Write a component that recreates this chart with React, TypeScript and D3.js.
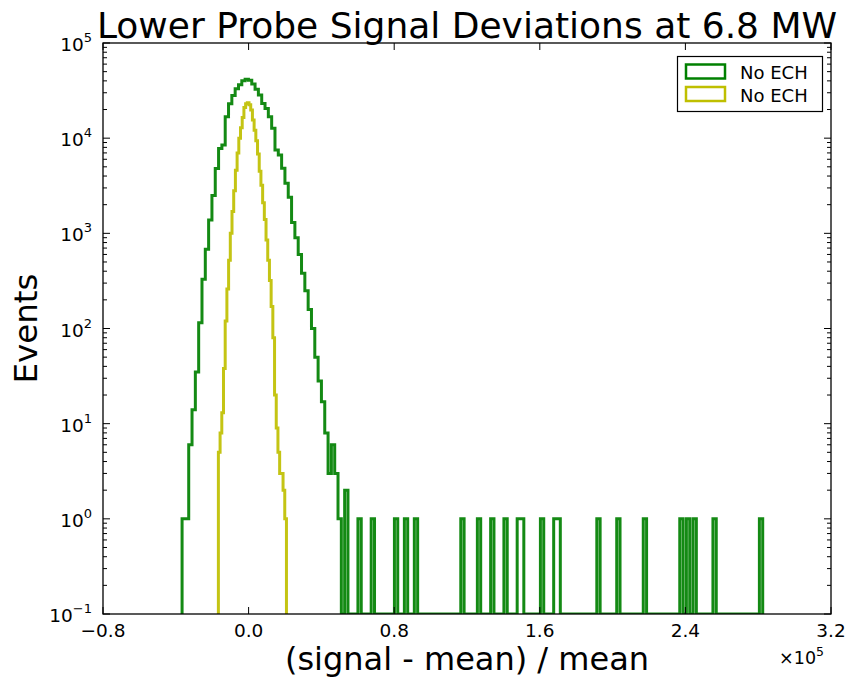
import React from "react";
import * as d3 from "d3";

const title = "Lower Probe Signal Deviations at 6.8 MW";
const xLabel = "(signal - mean) / mean";
const yLabel = "Events";
const legendLabels = ["No ECH", "No ECH"];
const seriesColors = ["#008000", "#bfbf00"];

const xTicks = [-0.8, 0, 0.8, 1.6, 2.4, 3.2];
const xTickLabels = ["−0.8", "0.0", "0.8", "1.6", "2.4", "3.2"];
const yTickExps = [-1, 0, 1, 2, 3, 4, 5];
const yTickLabels = ["−1", "0", "1", "2", "3", "4", "5"];
const xOffsetExp = "5";

// green histogram (175 bins)
const greenBinStart = -0.3655;
const greenBinWidth = 0.01823;
const greenBinTotal = 175;
const greenCoreCounts = [
  1, 1, 6, 14, 35, 115, 330, 680, 1380, 2500,
  4800, 7800, 8500, 16800, 23000, 28000, 33000, 36500, 40000, 41500,
  40500, 37000, 32600, 28400, 23200, 20500, 16800, 12700, 7500, 6660,
  4820, 3350, 2400, 1300, 900, 600, 380, 250, 158, 100,
  50, 28, 17, 8, 3, 6, 3, 1, 0, 2,
];
const greenTailBins = [53, 57, 64, 67, 70, 84, 89, 93, 97, 101, 102, 108, 112, 113, 125, 131, 139, 150, 152, 154, 160, 174];
const greenTailCounts = [1, 1, 1, 1, 1, 1, 1, 1, 1, 1, 1, 1, 1, 1, 1, 1, 1, 1, 1, 1, 1, 1];

// yellow histogram (40 bins)
const yellowBinStart = -0.166;
const yellowBinWidth = 0.00935;
const yellowCounts = [
  5, 8, 13, 38, 120, 260, 520, 1000, 1700, 2800,
  4600, 7000, 10000, 12900, 16500, 21000, 23000, 23500, 22500, 19800,
  15500, 12100, 9400, 6800, 4500, 3200, 2100, 1400, 850, 520,
  320, 170, 80, 20, 9, 5, 3, 3, 2, 1,
];

const W = 847;
const H = 678;
const L = 103;
const R = 831;
const T = 43;
const B = 614;
const FONT = "DejaVu Sans";

export default function App() {
  const x = d3.scaleLinear().domain([-0.8, 3.2]).range([L, R]);
  const y = d3.scaleLog().domain([0.1, 1e5]).range([B, T]);
  const floor = 0.1;

  const greenCounts: number[] = new Array(greenBinTotal).fill(0);
  greenCoreCounts.forEach((c, i) => (greenCounts[i] = c));
  greenTailBins.forEach((b, i) => (greenCounts[b] = greenTailCounts[i]));

  const stepPoints = (start: number, width: number, counts: number[]) => {
    const pts: [number, number][] = [[start, floor]];
    counts.forEach((c, i) => {
      const v = c > 0 ? c : floor;
      pts.push([start + i * width, v], [start + (i + 1) * width, v]);
    });
    pts.push([start + counts.length * width, floor]);
    return pts;
  };
  const line = d3
    .line<[number, number]>()
    .x((d) => x(d[0]))
    .y((d) => y(d[1]));

  const greenPath = line(stepPoints(greenBinStart, greenBinWidth, greenCounts)) || "";
  const yellowPath = line(stepPoints(yellowBinStart, yellowBinWidth, yellowCounts)) || "";

  const minorY: number[] = [];
  yTickExps.slice(0, -1).forEach((e) => {
    for (let m = 2; m <= 9; m++) minorY.push(m * Math.pow(10, e));
  });

  const majLen = 7;
  const minLen = 4;

  return (
    <div style={{ position: "absolute", left: 0, top: 0 }}>
      <svg width={W} height={H} style={{ display: "block", background: "#fff" }} fontFamily={FONT}>
        <defs>
          <clipPath id="axclip">
            <rect x={L} y={T} width={R - L} height={B - T} />
          </clipPath>
        </defs>
        <rect x={0} y={0} width={W} height={H} fill="#fff" />
        <g clipPath="url(#axclip)" fill="none" strokeWidth={3} strokeLinejoin="miter">
          <path d={greenPath} stroke={seriesColors[0]} strokeOpacity={0.92} />
          <path d={yellowPath} stroke={seriesColors[1]} strokeOpacity={0.92} />
        </g>
        {/* ticks */}
        <g stroke="#000" strokeWidth={1}>
          {xTicks.map((t, i) => (
            <g key={"xt" + i}>
              <line x1={x(t)} x2={x(t)} y1={B} y2={B - majLen} />
              <line x1={x(t)} x2={x(t)} y1={T} y2={T + majLen} />
            </g>
          ))}
          {yTickExps.map((e, i) => (
            <g key={"yt" + i}>
              <line x1={L} x2={L + majLen} y1={y(Math.pow(10, e))} y2={y(Math.pow(10, e))} />
              <line x1={R} x2={R - majLen} y1={y(Math.pow(10, e))} y2={y(Math.pow(10, e))} />
            </g>
          ))}
          {minorY.map((v, i) => (
            <g key={"ym" + i}>
              <line x1={L} x2={L + minLen} y1={y(v)} y2={y(v)} />
              <line x1={R} x2={R - minLen} y1={y(v)} y2={y(v)} />
            </g>
          ))}
        </g>
        <rect x={L} y={T} width={R - L} height={B - T} fill="none" stroke="#000" strokeWidth={1.3} />
        {/* x tick labels */}
        {xTicks.map((t, i) => (
          <text key={"xl" + i} x={x(t)} y={637} textAnchor="middle" fontSize={18.5} fill="#000">
            {xTickLabels[i]}
          </text>
        ))}
        {/* y tick labels */}
        {yTickExps.map((e, i) => (
          <text key={"yl" + i} x={L - 11} y={y(Math.pow(10, e)) + 8} textAnchor="end" fontSize={18.5} fill="#000">
            10
            <tspan fontSize={13} dy={-9}>
              {yTickLabels[i]}
            </tspan>
          </text>
        ))}
        {/* offset text */}
        <text x={824} y={664} textAnchor="end" fontSize={17.5} fill="#000">
          ×10
          <tspan fontSize={12.5} dy={-8}>
            {xOffsetExp}
          </tspan>
        </text>
        {/* title & labels */}
        <text x={(L + R) / 2} y={38} textAnchor="middle" fontSize={36} fill="#000">
          {title}
        </text>
        <text x={(L + R) / 2} y={670} textAnchor="middle" fontSize={32} fill="#000">
          {xLabel}
        </text>
        <text transform={`translate(37,${(T + B) / 2}) rotate(-90)`} textAnchor="middle" fontSize={32.5} fill="#000">
          {yLabel}
        </text>
        {/* legend */}
        <g>
          <rect x={677.5} y={56.5} width={145} height={55} fill="#fff" stroke="#000" strokeWidth={1.2} />
          {legendLabels.map((lab, i) => (
            <g key={"lg" + i}>
              <rect x={686} y={64.5 + i * 22.5} width={39} height={14} fill="none" stroke={seriesColors[i]} strokeWidth={2.5} />
              <text x={740} y={79 + i * 22.5} fontSize={18} fill="#000">
                {lab}
              </text>
            </g>
          ))}
        </g>
      </svg>
    </div>
  );
}
